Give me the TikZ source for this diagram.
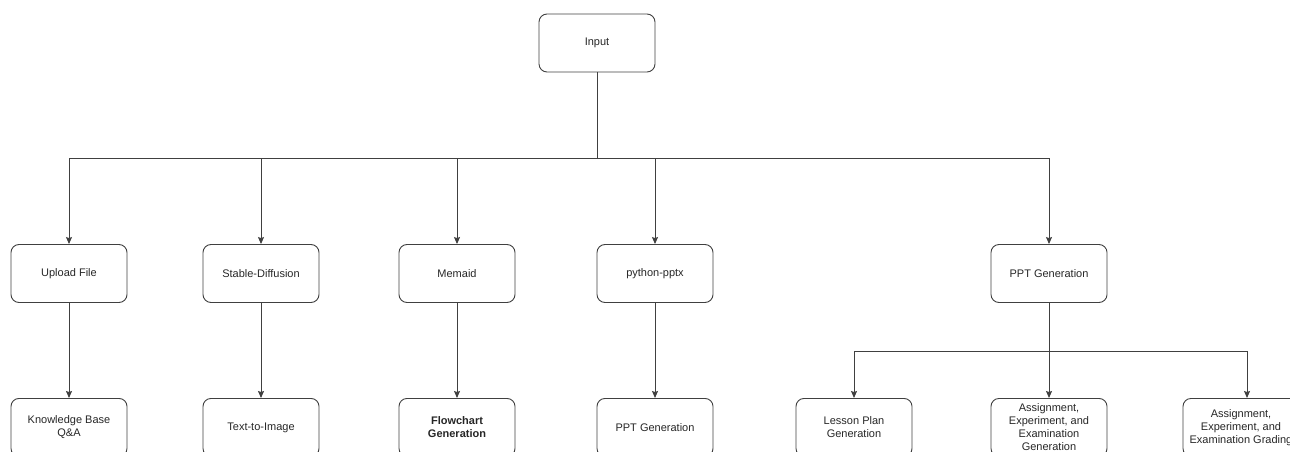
\documentclass[tikz,border=0pt]{standalone}
\usepackage{fontspec}
\setmainfont{Liberation Sans}
\usepackage{tikz}
\usetikzlibrary{arrows.meta}
\usetikzlibrary{calc}
\tikzstyle{box} =[draw=black!75, line width=0.9pt, rounded corners=8pt,
	minimum width=116pt, minimum height=58pt, inner sep=2pt,
	align=center, font=\fontsize{11}{13}\selectfont, text=black!85]
\tikzstyle{arrow} =[-{Stealth[length=7pt, width=6pt, inset=1pt]}, draw=black!75, line width=0.9pt]
\tikzstyle{line} =[draw=black!75, line width=0.9pt]

\begin{document}
\begin{tikzpicture}[x=1pt, y=-1pt]
		\useasboundingbox (0,0) rectangle (1290,452);
		% top
		\node (input)[box] at (597,43) {Input};
		% second row
		\node (upload)[box] at (69,273.5) {Upload File};
		\node (stable)[box] at (261,273.5) {Stable-Diffusion};
		\node (memaid)[box] at (457,273.5) {Memaid};
		\node (pptx)[box] at (655,273.5) {python-pptx};
		\node (pptgen)[box] at (1049,273.5) {PPT Generation};
		% third row
		\node (kbqa)[box, anchor=north] at (69,398) {Knowledge Base\\Q\&A};
		\node (txtimg)[box, anchor=north] at (261,398) {Text-to-Image};
		\node (flow)[box, anchor=north, font=\fontsize{11}{13}\selectfont\bfseries] at (457,398) {Flowchart\\Generation};
		\node (pptout)[box, anchor=north] at (655,398) {PPT Generation};
		\node (lesson)[box, anchor=north] at (854,398) {Lesson Plan\\Generation};
		\node (assign)[box, anchor=north] at (1049,398) {Assignment,\\Experiment, and\\Examination\\Generation};
		\node (grading)[box, anchor=north] at (1241,398) {Assignment,\\Experiment, and\\Examination Grading};
		% first split
		\coordinate (bar1) at (597,158);
		\draw[line] (input.south) -- (bar1);
		\draw[line] (upload.north |- bar1) -- (pptgen.north |- bar1);
		\foreach \n in {upload, stable, memaid, pptx, pptgen}
			\draw[arrow] (\n.north |- bar1) -- (\n.north);
		% second split
		\coordinate (bar2) at (1049,351);
		\coordinate (bar2r) at (1247,351);
		\draw[line] (pptgen.south) -- (bar2);
		\draw[line] (lesson.north |- bar2) -- (bar2r);
		\draw[arrow] (lesson.north |- bar2) -- (lesson.north);
		\draw[arrow] (bar2) -- (assign.north);
		\draw[arrow] (bar2r) -- (bar2r |- grading.north);
		% straight links
		\draw[arrow] (upload.south) -- (kbqa.north);
		\draw[arrow] (stable.south) -- (txtimg.north);
		\draw[arrow] (memaid.south) -- (flow.north);
		\draw[arrow] (pptx.south) -- (pptout.north);
\end{tikzpicture}
\end{document}
